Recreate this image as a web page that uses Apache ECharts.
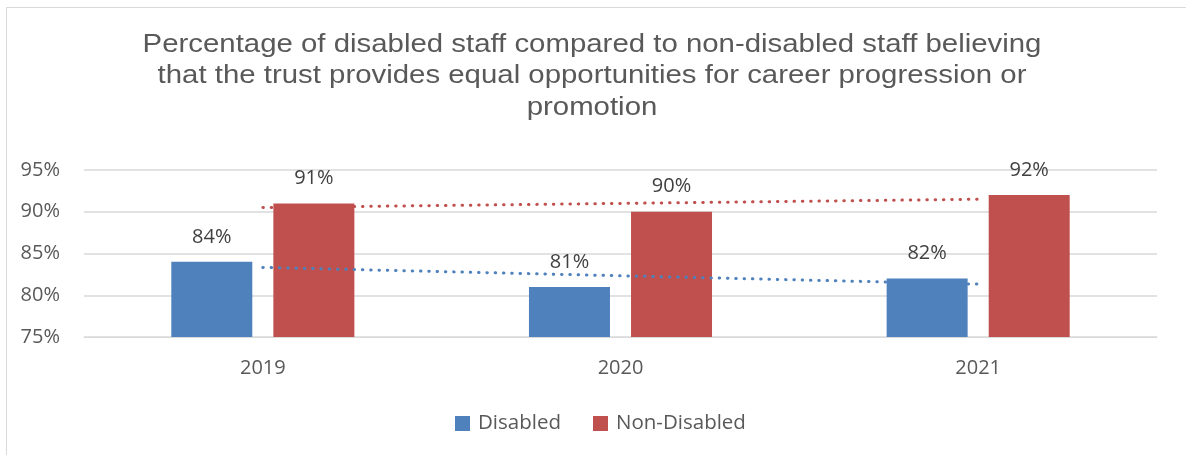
<!DOCTYPE html>
<html>
<head>
<meta charset="utf-8">
<script src="https://cdn.jsdelivr.net/npm/echarts@6/dist/echarts.min.js"></script>
<style>
  html, body { margin: 0; padding: 0; background: #fff; }
  #frame { position: absolute; left: 6px; top: 7px; width: 1190px; height: 460px; border: 1px solid #d9d9d9; box-sizing: border-box; }
  #chart { position: absolute; left: 0; top: 0; width: 1186px; height: 455px; }
</style>
</head>
<body>
<div id="frame"></div>
<div id="chart"></div>
<script>
const years = ['2019', '2020', '2021'];
const disabled = [84, 81, 82];
const nonDisabled = [91, 90, 92];
const yTicks = [75, 80, 85, 90, 95];
const titleText = 'Percentage of disabled staff compared to non-disabled staff believing\nthat the trust provides equal opportunities for career progression or\npromotion';

// Least-squares linear trend over the category index
function trend(values) {
  const n = values.length;
  const xs = values.map((_, i) => i + 1);
  const mx = xs.reduce((a, b) => a + b, 0) / n;
  const my = values.reduce((a, b) => a + b, 0) / n;
  let num = 0, den = 0;
  xs.forEach((x, i) => { num += (x - mx) * (values[i] - my); den += (x - mx) * (x - mx); });
  const slope = num / den;
  return xs.map(x => my + slope * (x - mx));
}

const BLUE = '#4f81bd';
const RED = '#c0504d';
const textFont = '"Open Sans", "Noto Sans", sans-serif';

const chart = echarts.init(document.getElementById('chart'), null, { renderer: 'canvas' });
chart.setOption({
  animation: false,
  graphic: [{
    type: 'text',
    x: 592,
    y: 29,
    scaleX: 1.13,
    silent: true,
    style: {
      text: titleText,
      align: 'center',
      verticalAlign: 'top',
      fontFamily: '"Liberation Sans", Arial, sans-serif',
      fontSize: 26,
      lineHeight: 31.5,
      fill: '#595959'
    }
  }],
  legend: {
    bottom: 16,
    left: 450,
    itemWidth: 15,
    itemHeight: 15,
    itemGap: 32,
    icon: 'rect',
    data: ['Disabled', 'Non-Disabled'],
    textStyle: { fontFamily: textFont, fontSize: 20.5, color: '#595959', padding: [0, 0, 0, 3] }
  },
  grid: { left: 84, right: 29, top: 170, bottom: 118 },
  xAxis: {
    type: 'category',
    data: years,
    axisLine: { show: true, lineStyle: { color: '#d9d9d9', width: 1 } },
    axisTick: { show: false },
    axisLabel: { fontFamily: textFont, fontSize: 20, color: '#595959', margin: 21 }
  },
  yAxis: {
    type: 'value',
    min: yTicks[0],
    max: yTicks[yTicks.length - 1],
    interval: 5,
    axisLine: { show: false },
    axisTick: { show: false },
    splitLine: { lineStyle: { color: '#d9d9d9', width: 1.5 } },
    axisLabel: { fontFamily: textFont, fontSize: 20, color: '#595959', margin: 24, formatter: v => v + '%' }
  },
  series: [
    {
      name: 'Disabled', type: 'bar', data: disabled,
      barWidth: 81, barGap: '26%',
      itemStyle: { color: BLUE },
      label: { show: true, position: 'top', distance: 15, formatter: p => p.value + '%', fontFamily: textFont, fontSize: 20, color: '#404040' }
    },
    {
      name: 'Non-Disabled', type: 'bar', data: nonDisabled,
      barWidth: 81, barGap: '26%',
      itemStyle: { color: RED },
      label: { show: true, position: 'top', distance: 15, formatter: p => p.value + '%', fontFamily: textFont, fontSize: 20, color: '#404040' }
    },
    {
      name: 'Disabled trend', type: 'line', data: trend(disabled),
      symbol: 'none', silent: true, z: 5,
      lineStyle: { color: BLUE, width: 3, type: [0.5, 7.8], cap: 'round' }
    },
    {
      name: 'Non-Disabled trend', type: 'line', data: trend(nonDisabled),
      symbol: 'none', silent: true, z: 5,
      lineStyle: { color: RED, width: 3, type: [0.5, 7.8], cap: 'round' }
    }
  ]
});
</script>
</body>
</html>
